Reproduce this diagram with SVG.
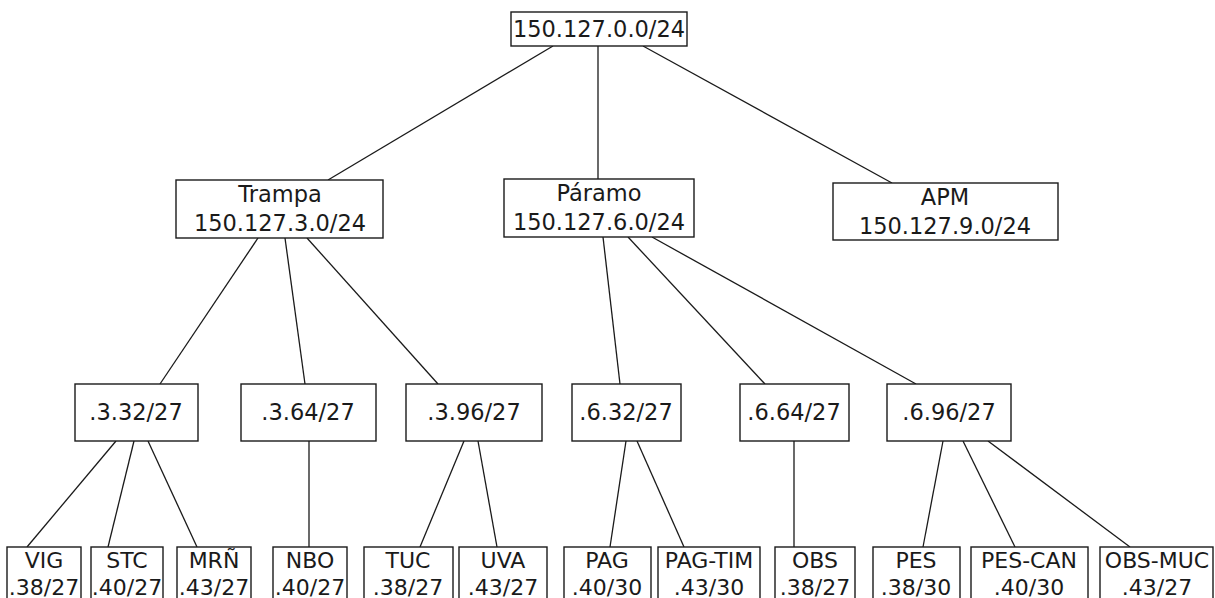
<svg xmlns="http://www.w3.org/2000/svg" width="1215" height="598" viewBox="0 0 1215 598">
  <style>
    .box { fill: #ffffff; stroke: #1a1a1a; stroke-width: 1.4; }
    .lbl { font-family: "DejaVu Sans", "Liberation Sans", sans-serif; font-size: 22.5px; fill: #1a1a1a; text-anchor: middle; }
    .sub { font-family: "DejaVu Sans", "Liberation Sans", sans-serif; font-size: 22px; fill: #1a1a1a; text-anchor: middle; }
    .edge { stroke: #1a1a1a; stroke-width: 1.3; fill: none; }
  </style>
  <rect x="0" y="0" width="1215" height="598" fill="#ffffff"/>

  <!-- connectors -->
  <g id="connectors" class="edge">
    <line x1="553" y1="46" x2="328" y2="180"/>
    <line x1="598" y1="46" x2="598" y2="179"/>
    <line x1="643" y1="46" x2="892" y2="183"/>

    <line x1="258" y1="238" x2="160" y2="384"/>
    <line x1="285" y1="238" x2="305" y2="384"/>
    <line x1="307" y1="238" x2="438" y2="384"/>

    <line x1="603" y1="237" x2="620" y2="384"/>
    <line x1="628" y1="237" x2="765" y2="384"/>
    <line x1="652" y1="237" x2="916" y2="384"/>

    <line x1="116" y1="441" x2="27" y2="547"/>
    <line x1="134" y1="441" x2="108" y2="547"/>
    <line x1="148" y1="441" x2="197" y2="547"/>

    <line x1="309" y1="441" x2="309" y2="547"/>

    <line x1="464" y1="441" x2="420" y2="547"/>
    <line x1="478" y1="441" x2="497" y2="547"/>

    <line x1="626" y1="441" x2="610" y2="547"/>
    <line x1="637" y1="441" x2="684" y2="547"/>

    <line x1="794" y1="441" x2="794" y2="547"/>

    <line x1="943" y1="441" x2="923" y2="547"/>
    <line x1="963" y1="441" x2="1015" y2="547"/>
    <line x1="988" y1="441" x2="1130" y2="547"/>
  </g>

  <!-- root network -->
  <g id="root">
    <rect class="box" x="511" y="12" width="176" height="34"/>
    <text class="lbl" x="599" y="37">150.127.0.0/24</text>
  </g>

  <!-- sites -->
  <g id="trampa">
    <rect class="box" x="176" y="180" width="207" height="58"/>
    <text class="lbl" x="280" y="202">Trampa</text>
    <text class="lbl" x="280" y="231">150.127.3.0/24</text>
  </g>
  <g id="paramo">
    <rect class="box" x="504" y="179" width="190" height="58"/>
    <text class="lbl" x="599" y="201">Páramo</text>
    <text class="lbl" x="599" y="230">150.127.6.0/24</text>
  </g>
  <g id="apm">
    <rect class="box" x="833" y="183" width="225" height="57"/>
    <text class="lbl" x="945" y="205">APM</text>
    <text class="lbl" x="945" y="234">150.127.9.0/24</text>
  </g>

  <!-- /27 subnets -->
  <g id="s3-32">
    <rect class="box" x="75" y="384" width="123" height="57"/>
    <text class="lbl" x="136" y="420">.3.32/27</text>
  </g>
  <g id="s3-64">
    <rect class="box" x="241" y="384" width="135" height="57"/>
    <text class="lbl" x="308" y="420">.3.64/27</text>
  </g>
  <g id="s3-96">
    <rect class="box" x="406" y="384" width="136" height="57"/>
    <text class="lbl" x="474" y="420">.3.96/27</text>
  </g>
  <g id="s6-32">
    <rect class="box" x="572" y="384" width="109" height="57"/>
    <text class="lbl" x="626" y="420">.6.32/27</text>
  </g>
  <g id="s6-64">
    <rect class="box" x="740" y="384" width="109" height="57"/>
    <text class="lbl" x="794" y="420">.6.64/27</text>
  </g>
  <g id="s6-96">
    <rect class="box" x="887" y="384" width="124" height="57"/>
    <text class="lbl" x="949" y="420">.6.96/27</text>
  </g>

  <!-- hosts -->
  <g id="vig">
    <rect class="box" x="7" y="547" width="74" height="70"/>
    <text class="sub" x="44" y="568">VIG</text>
    <text class="sub" x="44" y="595">.38/27</text>
  </g>
  <g id="stc">
    <rect class="box" x="91" y="547" width="72" height="70"/>
    <text class="sub" x="127" y="568">STC</text>
    <text class="sub" x="127" y="595">.40/27</text>
  </g>
  <g id="mrn">
    <rect class="box" x="177" y="547" width="74" height="70"/>
    <text class="sub" x="214" y="568">MRÑ</text>
    <text class="sub" x="214" y="595">.43/27</text>
  </g>
  <g id="nbo">
    <rect class="box" x="273" y="547" width="74" height="70"/>
    <text class="sub" x="310" y="568">NBO</text>
    <text class="sub" x="310" y="595">.40/27</text>
  </g>
  <g id="tuc">
    <rect class="box" x="364" y="547" width="89" height="70"/>
    <text class="sub" x="408" y="568">TUC</text>
    <text class="sub" x="408" y="595">.38/27</text>
  </g>
  <g id="uva">
    <rect class="box" x="459" y="547" width="88" height="70"/>
    <text class="sub" x="503" y="568">UVA</text>
    <text class="sub" x="503" y="595">.43/27</text>
  </g>
  <g id="pag">
    <rect class="box" x="564" y="547" width="87" height="70"/>
    <text class="sub" x="607" y="568">PAG</text>
    <text class="sub" x="607" y="595">.40/30</text>
  </g>
  <g id="pag-tim">
    <rect class="box" x="658" y="547" width="102" height="70"/>
    <text class="sub" x="709" y="568">PAG-TIM</text>
    <text class="sub" x="709" y="595">.43/30</text>
  </g>
  <g id="obs">
    <rect class="box" x="775" y="547" width="80" height="70"/>
    <text class="sub" x="815" y="568">OBS</text>
    <text class="sub" x="815" y="595">.38/27</text>
  </g>
  <g id="pes">
    <rect class="box" x="873" y="547" width="87" height="70"/>
    <text class="sub" x="916" y="568">PES</text>
    <text class="sub" x="916" y="595">.38/30</text>
  </g>
  <g id="pes-can">
    <rect class="box" x="971" y="547" width="117" height="70"/>
    <text class="sub" x="1029" y="568">PES-CAN</text>
    <text class="sub" x="1029" y="595">.40/30</text>
  </g>
  <g id="obs-muc">
    <rect class="box" x="1100" y="547" width="113" height="70"/>
    <text class="sub" x="1157" y="568">OBS-MUC</text>
    <text class="sub" x="1157" y="595">.43/27</text>
  </g>
</svg>
